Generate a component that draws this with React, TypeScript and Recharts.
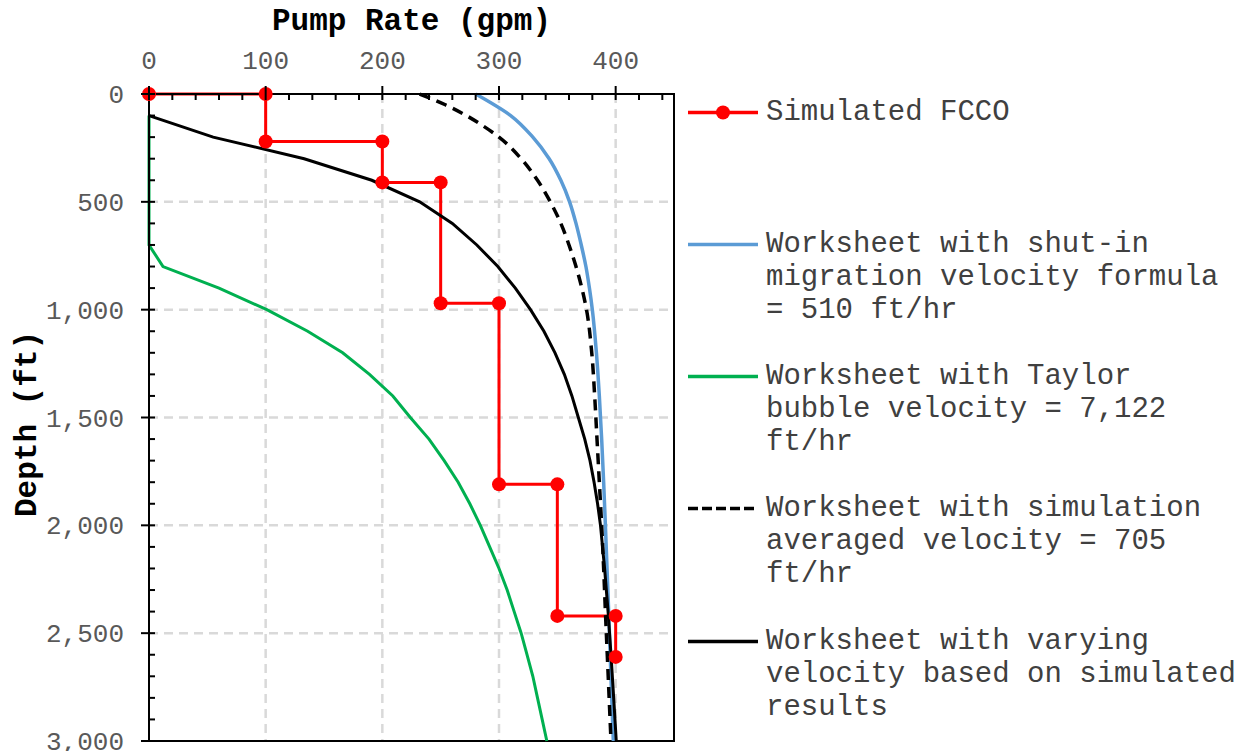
import { CartesianGrid, Line, LineChart, ReferenceArea, XAxis, YAxis } from "recharts";

// pump rate (gpm) vs depth (ft)
const fccoRate = [0, 100, 100, 200, 200, 250, 250, 300, 300, 350, 350, 400, 400];
const fccoDepth = [0, 0, 220, 220, 410, 410, 970, 970, 1810, 1810, 2420, 2420, 2610];

const shutInDepth = [0, 100, 200, 300, 400, 500, 600, 700, 800, 900, 1000, 1200, 1400, 1600, 1800, 2000, 2200, 2400, 2600, 2800, 3000];
const shutInRate = [280, 310, 329, 343, 353, 360.5, 366, 370.5, 374.5, 377.5, 380, 383.5, 386, 388, 389.7, 391.2, 392.6, 394, 395.3, 396.6, 398];

const taylorDepth = [100, 700, 800, 900, 1000, 1100, 1200, 1300, 1400, 1500, 1600, 1700, 1800, 1900, 2000, 2100, 2200, 2300, 2400, 2500, 2600, 2700, 2800, 2900, 3000];
const taylorRate = [0, 0, 12, 60, 101, 136, 166, 189, 209, 224, 240, 253, 265, 275, 284, 292, 300, 307, 313, 319, 324, 329, 333, 337, 341];

const averagedDepth = [0, 50, 100, 150, 200, 300, 400, 500, 600, 700, 800, 900, 1000, 1200, 1400, 1600, 1800, 2000, 2200, 2400, 2600, 2800, 3000];
const averagedRate = [232, 254, 272, 287, 300, 319, 333, 344, 353, 360, 366, 371, 375, 379.5, 382, 384, 386, 388, 389.7, 391.2, 392.8, 394.4, 396];

const varyingDepth = [100, 200, 300, 400, 500, 600, 700, 800, 900, 1000, 1100, 1200, 1300, 1400, 1500, 1600, 1700, 1800, 1900, 2000, 2200, 2400, 2600, 2800, 3000];
const varyingRate = [0, 55, 133, 191, 232, 260, 281, 299, 314, 327, 338.5, 348, 356, 362.5, 368, 373.5, 378, 381.5, 384.5, 387, 390.5, 393.5, 396, 398.3, 400.5];

const rateTicks = [0, 20, 40, 60, 80, 100, 120, 140, 160, 180, 200, 220, 240, 260, 280, 300, 320, 340, 360, 380, 400, 420, 440];
const depthTicks = [0, 100, 200, 300, 400, 500, 600, 700, 800, 900, 1000, 1100, 1200, 1300, 1400, 1500, 1600, 1700, 1800, 1900, 2000, 2100, 2200, 2300, 2400, 2500, 2600, 2700, 2800, 2900, 3000];
const rateGrid = [100, 200, 300, 400];
const depthGrid = [500, 1000, 1500, 2000, 2500];

const legendLabels = [
  ["Simulated FCCO"],
  ["Worksheet with shut-in", "migration velocity formula", "= 510 ft/hr"],
  ["Worksheet with Taylor", "bubble velocity = 7,122", "ft/hr"],
  ["Worksheet with simulation", "averaged velocity = 705", "ft/hr"],
  ["Worksheet with varying", "velocity based on simulated", "results"],
];

const zip = (rate: number[], depth: number[]) => depth.map((d, i) => ({ depth: d, rate: rate[i] }));

const MONO = '"Liberation Mono", "DejaVu Sans Mono", monospace';

const SERIES = [
  { name: "fcco", data: zip(fccoRate, fccoDepth), color: "#FF0000", dash: undefined, width: 3, type: "linear", dot: true },
  { name: "shutin", data: zip(shutInRate, shutInDepth), color: "#5B9BD5", dash: undefined, width: 3.5, type: "monotone", dot: false },
  { name: "taylor", data: zip(taylorRate, taylorDepth), color: "#00B050", dash: undefined, width: 3, type: "linear", dot: false },
  { name: "averaged", data: zip(averagedRate, averagedDepth), color: "#000000", dash: "11 7", width: 3.5, type: "monotone", dot: false },
  { name: "varying", data: zip(varyingRate, varyingDepth), color: "#000000", dash: undefined, width: 3, type: "linear", dot: false },
];

function RateTick({ x, y, payload }: any) {
  const major = payload.value % 100 === 0;
  return (
    <g>
      <line x1={x} x2={x} y1={major ? y - 8 : y} y2={y + 6} stroke="#000" strokeWidth={2} />
      {major && (
        <text x={x} y={y - 34} dy="0.35em" textAnchor="middle" fill="#595959" fontSize={26} fontFamily={MONO}>
          {payload.value}
        </text>
      )}
    </g>
  );
}

function DepthTick({ x, y, payload }: any) {
  const major = payload.value % 500 === 0;
  return (
    <g>
      <line x1={major ? x - 8 : x} x2={x + 6} y1={y} y2={y} stroke="#000" strokeWidth={2} />
      {major && (
        <text x={x - 25} y={y} dy="0.35em" textAnchor="end" fill="#595959" fontSize={26} fontFamily={MONO}>
          {payload.value.toLocaleString("en-US")}
        </text>
      )}
    </g>
  );
}

function LegendBlock() {
  return (
    <>
      {legendLabels.map((lines, i) => {
        const s = SERIES[i];
        const cy = 112 + i * 132.25;
        return (
          <div key={s.name} style={{ position: "absolute", left: 688, top: cy - 16.5 }}>
            <svg width={72} height={33} style={{ position: "absolute", left: 0, top: 0 }}>
              <line x1={0} x2={70} y1={16.5} y2={16.5} stroke={s.color} strokeWidth={3.5} strokeDasharray={s.dash ? "10 4" : undefined} />
              {s.dot && <circle cx={35} cy={16.5} r={7} fill={s.color} />}
            </svg>
            <div style={{ position: "absolute", left: 78, top: 0, whiteSpace: "pre", fontFamily: MONO, fontSize: 29, lineHeight: "33px", color: "#404040" }}>
              {lines.join("\n")}
            </div>
          </div>
        );
      })}
    </>
  );
}

export default function App() {
  return (
    <div style={{ position: "absolute", left: 0, top: 0, width: 1244, height: 751, background: "#fff", overflow: "hidden" }}>
      <LineChart width={1244} height={751} layout="vertical" margin={{ top: 0, right: 570, bottom: 10, left: 0 }}>
        <CartesianGrid stroke="#d9d9d9" strokeWidth={2.5} strokeDasharray="9 6" horizontalValues={depthGrid} verticalValues={rateGrid} />
        <XAxis
          type="number"
          dataKey="rate"
          orientation="top"
          domain={[0, 450]}
          ticks={rateTicks}
          interval={0}
          height={94}
          tickSize={0}
          tickMargin={0}
          tickLine={false}
          axisLine={{ stroke: "#000", strokeWidth: 2 }}
          tick={<RateTick />}
        />
        <YAxis
          type="number"
          dataKey="depth"
          domain={[0, 3000]}
          ticks={depthTicks}
          interval={0}
          width={149}
          tickSize={0}
          tickMargin={0}
          tickLine={false}
          axisLine={{ stroke: "#000", strokeWidth: 2 }}
          tick={<DepthTick />}
        />
        <ReferenceArea x1={0} x2={450} y1={0} y2={3000} fill="none" stroke="#000" strokeWidth={2} fillOpacity={0} />
        {SERIES.map((s) => (
          <Line
            key={s.name}
            data={s.data}
            dataKey="rate"
            type={s.type as any}
            stroke={s.color}
            strokeWidth={s.width}
            strokeDasharray={s.dash}
            dot={s.dot ? { r: 7, fill: s.color, stroke: s.color, strokeWidth: 0 } : false}
            activeDot={false}
            isAnimationActive={false}
          />
        ))}
      </LineChart>
      <div style={{ position: "absolute", left: 149, width: 525, top: 4, textAlign: "center", fontFamily: MONO, fontWeight: "bold", fontSize: 31, lineHeight: "36px", color: "#000" }}>
        Pump Rate (gpm)
      </div>
      <div style={{ position: "absolute", left: 28, top: 424, transform: "translate(-50%, -50%) rotate(-90deg)", whiteSpace: "nowrap", fontFamily: MONO, fontWeight: "bold", fontSize: 31, lineHeight: "36px", color: "#000" }}>
        Depth (ft)
      </div>
      <LegendBlock />
    </div>
  );
}
